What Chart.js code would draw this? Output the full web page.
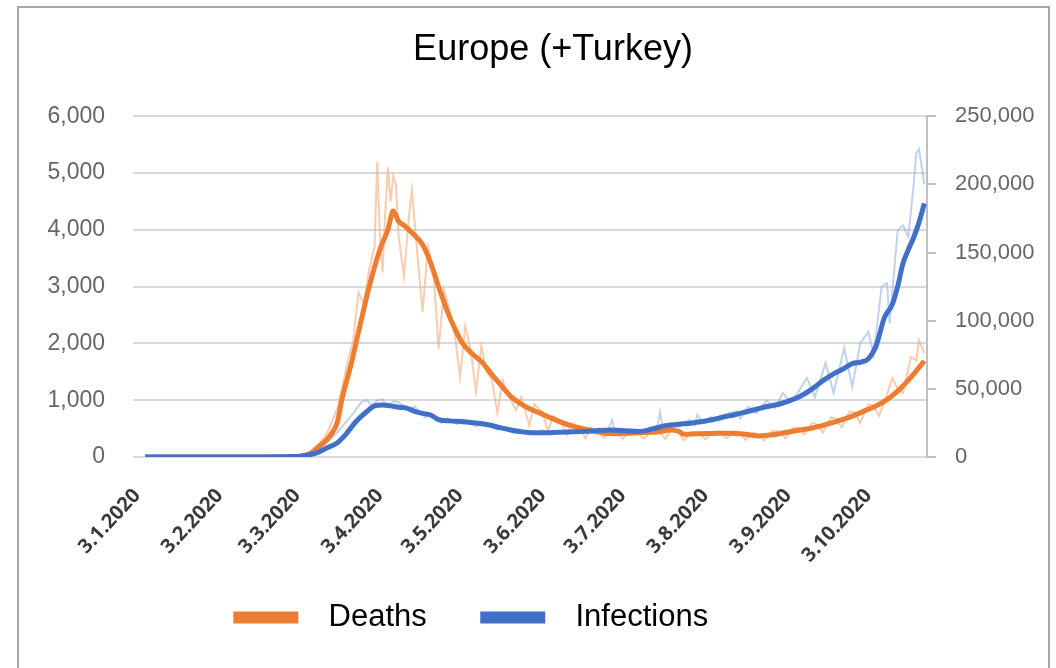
<!DOCTYPE html>
<html>
<head>
<meta charset="utf-8">
<script src="https://cdn.jsdelivr.net/npm/chart.js@4.4.0/dist/chart.umd.min.js"></script>
<style>
html, body { margin: 0; padding: 0; background: #fff; overflow: hidden; }
#frame { position: absolute; left: 17px; top: 6px; width: 1029px; height: 720px; border: 2px solid #a6a6a6; }
#wrap { position: absolute; left: 0; top: 0; width: 1056px; height: 668px; }
</style>
</head>
<body>
<div id="frame"></div>
<div id="wrap"><canvas id="mycanvas" width="1056" height="668"></canvas></div>
<script>
// x values are days counted from 3.1.2020
const tickDays = [0, 31, 60, 91, 121, 152, 182, 213, 244, 274];
const tickLabels = ['3.1.2020', '3.2.2020', '3.3.2020', '3.4.2020', '3.5.2020',
    '3.6.2020', '3.7.2020', '3.8.2020', '3.9.2020', '3.10.2020'];

// deaths, 7 day average (left axis)
const deathAvgDays = [3, 55, 62, 65, 68, 71, 73, 75, 77, 80, 83, 87, 91, 94, 96, 98, 100, 103, 107, 110,
    113, 116, 119, 122, 126, 129, 133, 137, 140, 144, 148, 152, 157, 162, 166, 170, 175, 180, 185, 190,
    195, 200, 203, 205, 210, 216, 222, 228, 233, 238, 243, 248, 253, 258, 263, 268, 273, 277, 281, 285,
    288, 291, 295];
const deathAvg = [0, 0, 20, 60, 180, 300, 420, 600, 1060, 1590, 2200, 3000, 3650, 4000, 4330, 4150, 4080, 3950, 3740, 3420,
    3000, 2600, 2270, 2000, 1800, 1680, 1450, 1230, 1070, 930, 830, 750, 650, 560, 510, 470, 420, 410, 420, 430,
    440, 475, 450, 400, 410, 415, 420, 400, 370, 390, 430, 470, 510, 570, 640, 720, 820, 900, 1010, 1160,
    1300, 1460, 1690];

// deaths, daily
const deathDayDays = [3, 55, 60, 63, 66, 69, 71, 73, 75, 77, 79, 81, 83, 85, 87, 89, 90, 91, 92, 93,
    94, 95, 96, 97, 98, 100, 102, 103, 105, 107, 109, 111, 113, 115, 117, 119, 121, 123, 125, 127,
    129, 131, 133, 135, 137, 139, 142, 144, 147, 149, 152, 154, 156, 159, 161, 163, 166, 168, 170, 173,
    175, 177, 180, 182, 185, 188, 190, 193, 196, 198, 201, 203, 205, 208, 211, 213, 216, 218, 221, 224,
    226, 228, 231, 233, 235, 238, 241, 243, 246, 248, 250, 253, 255, 257, 260, 262, 264, 267, 269, 271,
    274, 276, 278, 281, 283, 285, 287, 290, 292, 293, 295];
const deathDaily = [0, 0, 15, 50, 130, 280, 400, 620, 850, 1250, 1700, 2050, 2900, 2700, 3300, 3700, 5200, 3900, 3250, 4300,
    5100, 4500, 4950, 4800, 3900, 3180, 4300, 4700, 3600, 2550, 3700, 3300, 1900, 2950, 2600, 2200, 1400, 2300, 1900, 1150,
    1950, 1500, 1350, 780, 1350, 1100, 820, 1060, 560, 930, 780, 470, 720, 620, 390, 600, 520, 330, 520, 450,
    340, 440, 420, 320, 460, 410, 320, 480, 430, 320, 530, 420, 290, 440, 410, 310, 440, 450, 330, 460,
    420, 300, 430, 390, 290, 460, 450, 330, 520, 510, 400, 600, 570, 430, 700, 670, 520, 800, 780, 600,
    930, 900, 720, 1100, 1390, 1200, 1130, 1760, 1700, 2060, 1830];

// infections, 7 day average (right axis)
const infAvgDays = [3, 40, 58, 62, 65, 68, 71, 75, 78, 82, 86, 89, 92, 95, 98, 101, 104, 107, 110, 113,
    117, 122, 127, 132, 136, 140, 144, 148, 153, 158, 163, 168, 173, 178, 183, 188, 193, 198, 203, 208,
    212, 216, 220, 224, 228, 232, 236, 240, 244, 248, 253, 257, 261, 264, 268, 271, 274, 277, 280, 283,
    285, 287, 289, 291, 293, 295];
const infAvg = [0, 0, 300, 800, 1800, 3500, 6600, 10300, 16000, 25900, 33200, 37500, 38200, 37500, 36500, 35900, 33500, 32000, 30800, 27500,
    26500, 25900, 25000, 23500, 21500, 19800, 18500, 17800, 17800, 18200, 18500, 18800, 19500, 19800, 19300, 18700, 20500, 23000, 24000, 25000,
    26000, 27500, 29500, 31000, 33000, 35000, 37000, 38500, 41000, 44000, 50000, 56000, 61000, 64000, 68500, 69500, 72000, 82000, 102000, 112000,
    125000, 142000, 152000, 161000, 172000, 186000];

// infections, daily
const infDayDays = [3, 40, 56, 60, 63, 66, 69, 72, 75, 78, 81, 84, 86, 88, 90, 92, 94, 96, 98, 100,
    102, 104, 106, 108, 110, 112, 114, 116, 118, 120, 122, 124, 127, 130, 133, 135, 138, 141, 145, 148,
    152, 155, 159, 162, 166, 169, 173, 176, 178, 179, 182, 185, 189, 192, 195, 196, 197, 200, 203, 207,
    209, 210, 212, 215, 218, 222, 225, 226, 229, 232, 236, 239, 242, 245, 248, 251, 254, 258, 261, 265,
    268, 271, 274, 276, 279, 281, 282, 285, 287, 289, 291, 292, 293, 295];
const infDaily = [0, 0, 300, 700, 1800, 3800, 7500, 12000, 18000, 25000, 32000, 40000, 42000, 37500, 41500, 42500, 36500, 41000, 40000, 37500,
    35000, 37000, 33500, 29000, 31500, 27500, 25000, 28500, 26500, 24000, 27500, 25500, 22500, 25500, 22000, 20000, 22000, 17500, 19000, 16500,
    19500, 16500, 19000, 17000, 20000, 17500, 21000, 18000, 27000, 18500, 20500, 17500, 19500, 18500, 22500, 33000, 21500, 25000, 22000, 27500,
    23500, 31000, 25500, 29500, 26500, 32500, 33500, 28000, 37000, 32000, 41500, 36000, 47000, 40000, 48500, 58000, 44000, 69000, 47000, 80000,
    51500, 83500, 92000, 75000, 125000, 127500, 98000, 166000, 170000, 161500, 200000, 223000, 226000, 200000];

const orange = '#ed7d31';
const blue = '#4070c8';

const pts = function (days, vals) {
    return days.map((d, i) => ({x: d, y: vals[i]}));
};

// title and legend are not centred on the canvas in the original
const placeBoxes = {
    id: 'placeBoxes',
    afterLayout(chart) {
        const t = chart.titleBlock;
        t.left += 25;
        t.right += 25;
        const l = chart.legend;
        const h = l.bottom - l.top;
        l.left -= 56;
        l.right -= 56;
        l.top = 546;
        l.bottom = l.top + h;
    }
};

const chartDataSet = {
    type: 'line',
    data: {
        datasets: [{
            label: 'Deaths',
            data: pts(deathAvgDays, deathAvg),
            yAxisID: 'y',
            borderColor: orange,
            backgroundColor: orange,
            borderWidth: 5,
            pointRadius: 0,
            cubicInterpolationMode: 'monotone',
            order: 1
        }, {
            label: 'Infections',
            data: pts(infAvgDays, infAvg),
            yAxisID: 'y1',
            borderColor: blue,
            backgroundColor: blue,
            borderWidth: 5,
            pointRadius: 0,
            cubicInterpolationMode: 'monotone',
            order: 0
        }, {
            label: 'Deaths daily',
            data: pts(deathDayDays, deathDaily),
            yAxisID: 'y',
            borderColor: 'rgba(244, 170, 120, 0.6)',
            borderWidth: 2,
            pointRadius: 0,
            order: 3
        }, {
            label: 'Infections daily',
            data: pts(infDayDays, infDaily),
            yAxisID: 'y1',
            borderColor: 'rgba(150, 180, 230, 0.6)',
            borderWidth: 2,
            pointRadius: 0,
            order: 2
        }]
    },
    options: {
        responsive: false,
        animation: false,
        layout: {padding: 0},
        scales: {
            x: {
                type: 'linear',
                min: -1.5,
                max: 296,
                afterBuildTicks: axis => {
                    axis.ticks = tickDays.map(v => ({value: v}));
                },
                afterFit: axis => {
                    axis.height = 668 - 457 - axis.chart.legend.height;
                },
                ticks: {
                    autoSkip: false,
                    minRotation: 47,
                    maxRotation: 47,
                    padding: 27,
                    color: '#3a3a3a',
                    font: {family: 'Open Sans, sans-serif', size: 20, weight: 'bold'},
                    callback: v => tickLabels[tickDays.indexOf(v)]
                },
                grid: {display: false, drawTicks: false},
                border: {display: false}
            },
            y: {
                position: 'left',
                min: 0,
                max: 6000,
                afterFit: axis => {
                    axis.width = 133;
                },
                ticks: {
                    stepSize: 1000,
                    padding: 28,
                    color: '#666',
                    font: {family: 'Liberation Sans, Arial, sans-serif', size: 23},
                    callback: v => v.toLocaleString('en-US')
                },
                grid: {color: '#d9d9d9', lineWidth: 2, drawTicks: false},
                border: {display: false}
            },
            y1: {
                position: 'right',
                min: 0,
                max: 250000,
                afterFit: axis => {
                    axis.width = 129;
                },
                ticks: {
                    stepSize: 50000,
                    padding: 19,
                    color: '#666',
                    font: {family: 'Liberation Sans, Arial, sans-serif', size: 22},
                    callback: v => v.toLocaleString('en-US')
                },
                grid: {drawOnChartArea: false, color: '#bfbfbf', lineWidth: 2, tickLength: 9},
                border: {color: '#bfbfbf', width: 2}
            }
        },
        plugins: {
            title: {
                display: true,
                text: 'Europe (+Turkey)',
                color: '#000',
                font: {family: 'Liberation Sans, Arial, sans-serif', size: 36, weight: 'normal'},
                padding: {top: 28, bottom: 45}
            },
            legend: {
                position: 'bottom',
                labels: {
                    color: '#000',
                    font: {family: 'Liberation Sans, Arial, sans-serif', size: 31},
                    boxWidth: 60,
                    boxHeight: 7,
                    padding: 56,
                    generateLabels: chart => Chart.defaults.plugins.legend.labels.generateLabels(chart)
                        .filter(it => it.datasetIndex < 2)
                        .sort((a, b) => a.datasetIndex - b.datasetIndex)
                        .map(it => Object.assign(it, {text: '  ' + it.text}))
                }
            },
            tooltip: {enabled: false}
        }
    },
    plugins: [placeBoxes]
};

window.onload = function () {
    const ctx = document.getElementById('mycanvas').getContext('2d');
    new Chart(ctx, chartDataSet);
};
</script>
</body>
</html>
